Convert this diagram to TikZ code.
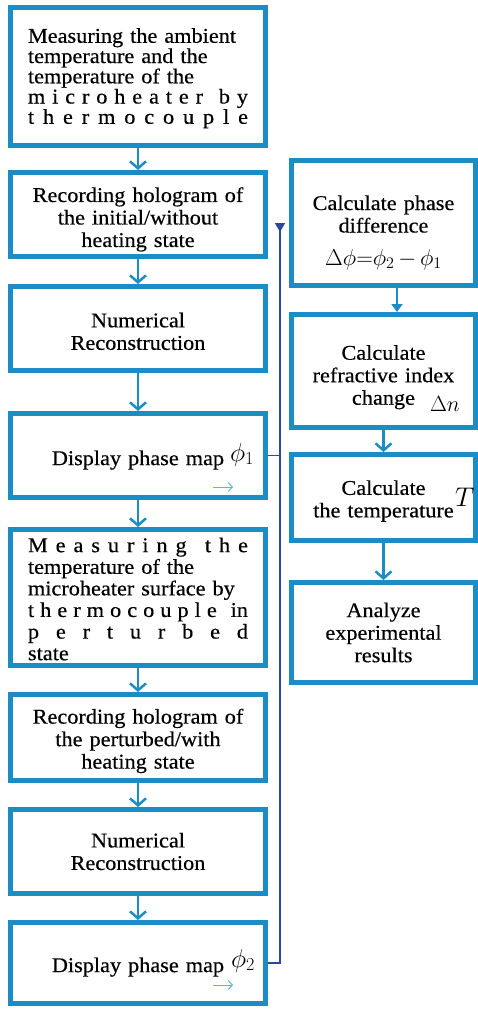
\RequirePackage{fix-cm}
\documentclass[tikz,border=0pt]{standalone}
\usepackage[no-math]{fontspec}
\setmainfont{Liberation Serif}[FakeStretch=1.06,FakeBold=0.4]
\usetikzlibrary{arrows.meta,calc}
\definecolor{boxblue}{RGB}{28,140,196}
\definecolor{linkblue}{RGB}{44,72,152}
\definecolor{lightarrow}{RGB}{92,180,226}
\newcommand\fillline[1]{\makebox[220pt][s]{#1}}
\newcommand\gap{\hskip 0pt plus 1fil\relax}
\newcommand\wgap{\hskip 0pt plus 2.3fil\relax}
\tikzset{
  flowbox/.style={draw=boxblue, line width=5pt, fill=white, rectangle, inner sep=0pt,
    align=center, font=\fontsize{21}{22.5}\selectfont},
  leftbox/.style={flowbox, minimum width=255pt, text width=240pt},
  rightbox/.style={flowbox, minimum width=184pt, text width=180pt},
  vflow/.style={draw=boxblue, line width=2.5pt, -{Straight Barb[length=7pt,width=16pt]}},
  triflow/.style={draw=boxblue, line width=2.2pt, -{Triangle[length=8pt,width=11pt]}},
  link/.style={draw=linkblue, line width=1.8pt},
  smallarrow/.style={draw=lightarrow, line width=1pt, -{Straight Barb[length=4pt,width=9pt]}},
  mathlbl/.style={inner sep=0pt, outer sep=0pt}
}
\begin{document}
\begin{tikzpicture}[x=1pt,y=-1pt]
\useasboundingbox (0,0) rectangle (478,1010);

% left column
\node[leftbox, minimum height=138pt, text width=220pt, align=left,
      font=\fontsize{21}{20.25}\selectfont] (b1) at (138,76.5)
  {\rule{0pt}{18pt}\fillline{Measuring the ambient}\\
   \fillline{temperature and the}\\
   \fillline{temperature of the}\\
   \fillline{m\gap i\gap c\gap r\gap o\gap h\gap e\gap a\gap t\gap e\gap r\wgap b\gap y}\\
   \fillline{t\gap h\gap e\gap r\gap m\gap o\gap c\gap o\gap u\gap p\gap l\gap e}};
\node[leftbox, minimum height=84pt] (b2) at (138,214.5)
  {\rule{0pt}{24.5pt}Recording hologram of\\the initial/without\\heating state};
\node[leftbox, minimum height=84pt] (b3) at (138,328.5)
  {\rule{0pt}{20.3pt}Numerical\\Reconstruction};
\node[leftbox, minimum height=84pt] (b4) at (138,455.5)
  {\rule{0pt}{23.7pt}Display phase map};
\node[leftbox, minimum height=136pt, text width=220pt, align=left,
      font=\fontsize{21}{21.6}\selectfont] (b5) at (138,597.5)
  {\rule{0pt}{17.5pt}\fillline{M\gap e\gap a\gap s\gap u\gap r\gap i\gap n\gap g\wgap t\gap h\gap e}\\
   \fillline{temperature of the}\\
   \fillline{microheater surface by}\\
   \fillline{t\gap h\gap e\gap r\gap m\gap o\gap c\gap o\gap u\gap p\gap l\gap e\wgap in}\\
   \fillline{p\gap e\gap r\gap t\gap u\gap r\gap b\gap e\gap d}\\
   state};
\node[leftbox, minimum height=86pt] (b6) at (138,737.5)
  {\rule{0pt}{21.7pt}Recording hologram of\\the perturbed/with\\heating state};
\node[leftbox, minimum height=84pt] (b7) at (138,851.5)
  {Numerical\\Reconstruction};
\node[leftbox, minimum height=81pt] (b8) at (138,963)
  {\rule{0pt}{22.7pt}Display phase map};

% right column
\node[rightbox, minimum height=125pt] (r1) at (383.5,223)
  {\rule{0pt}{34pt}Calculate phase\\difference\\[10.5pt]
   {\fontsize{23}{22.5}\selectfont$\Delta\phi{=}\phi_2\,{-}\,\phi_1$}};
\node[rightbox, minimum height=113pt] (r2) at (383.5,371)
  {\rule{0pt}{27pt}Calculate\\refractive index\\change};
\node[rightbox, minimum height=86pt] (r3) at (383.5,497.5)
  {\rule{0pt}{21.7pt}Calculate\\the temperature};
\node[rightbox, minimum height=100pt] (r4) at (383.5,632.5)
  {Analyze\\experimental\\results};

% math labels
\node[mathlbl, anchor=base west, font=\fontsize{26}{26}\selectfont] (p1) at (230,461) {$\phi_1$};
\node[mathlbl, anchor=base west, font=\fontsize{26}{26}\selectfont] (p2) at (231,967) {$\phi_2$};
\node[mathlbl, anchor=base west, font=\fontsize{22}{22}\selectfont] (dn) at (430,411) {$\Delta n$};
\node[mathlbl, anchor=base west, font=\fontsize{27}{27}\selectfont] (tt) at (455,506) {$T$};

% flow arrows
\draw[vflow] (b1.south) -- (b2.north);
\draw[vflow] (b2.south) -- (b3.north);
\draw[vflow] (b3.south) -- (b4.north);
\draw[vflow] (b4.south) -- (b5.north);
\draw[vflow] (b5.south) -- (b6.north);
\draw[vflow] (b6.south) -- (b7.north);
\draw[vflow] (b7.south) -- (b8.north);
\draw[triflow] ($(r1.south)+(13.5,0)$) -- ($(r2.north)+(13.5,0)$);
\draw[vflow] (r2.south) -- (r3.north);
\draw[vflow] (r3.south) -- (r4.north);

% phase-map links
\coordinate (jtop) at (280,223);
\draw[link, -{Triangle[reversed,length=9pt,width=10pt]}] (b8.east) -| (jtop);
\draw[link] (b4.east) -- (b4.east -| jtop);

% small arrows inside display boxes
\coordinate (s4) at (213,487);
\coordinate (s8) at (213,985);
\draw[smallarrow] (s4) -- ++(20,0);
\draw[smallarrow] (s8) -- ++(20,0);
\end{tikzpicture}
\end{document}
